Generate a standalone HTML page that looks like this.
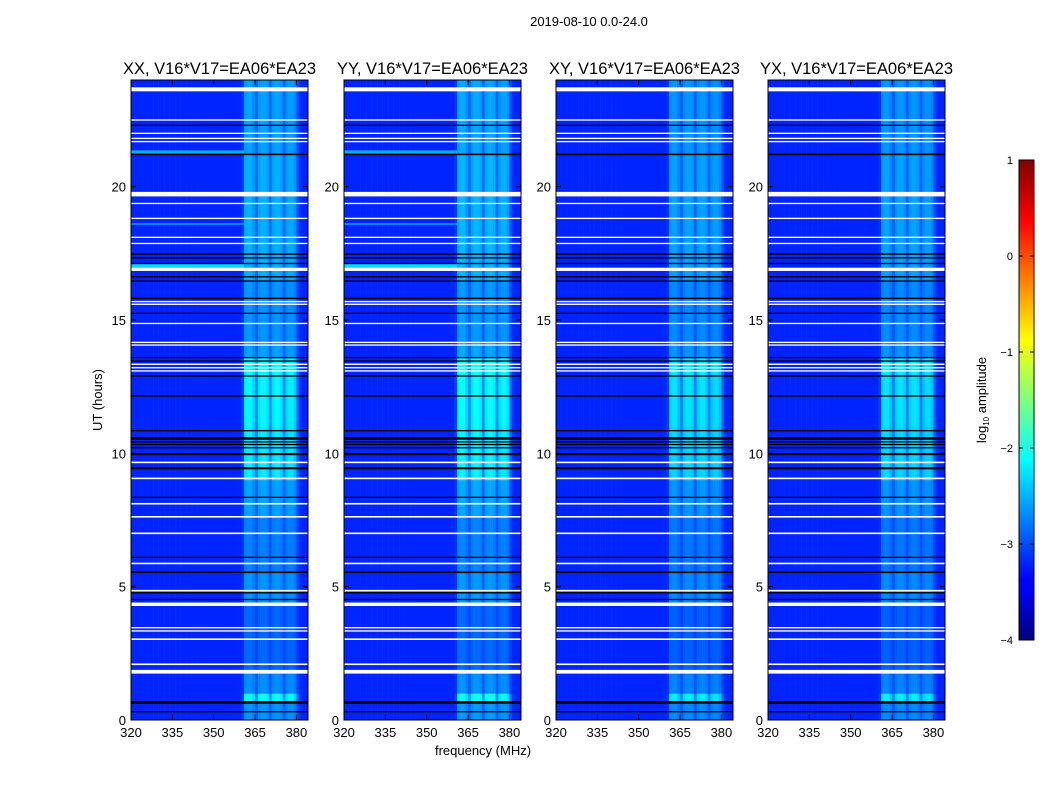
<!DOCTYPE html>
<html><head><meta charset="utf-8"><style>
body{margin:0;background:#fff;}
svg text{font-family:"Liberation Sans",sans-serif;fill:#000;}
</style></head><body>
<svg id="fig" width="1050" height="800" xmlns="http://www.w3.org/2000/svg">
<defs>
<linearGradient id="jet" x1="0" y1="1" x2="0" y2="0">
<stop offset="0" stop-color="#00007f"/><stop offset="0.11" stop-color="#0000ff"/>
<stop offset="0.125" stop-color="#0000ff"/><stop offset="0.375" stop-color="#00ffff"/>
<stop offset="0.625" stop-color="#ffff00"/><stop offset="0.875" stop-color="#ff0000"/>
<stop offset="1" stop-color="#7f0000"/>
</linearGradient>
</defs>
<text x="589" y="26" font-size="13" text-anchor="middle">2019-08-10 0.0-24.0</text>
<text x="483" y="755" font-size="13" text-anchor="middle">frequency (MHz)</text>
<text transform="translate(102,400) rotate(-90)" font-size="13" text-anchor="middle">UT (hours)</text>
<g id="panels"></g>
<g>
<rect x="1019" y="160" width="15" height="480" fill="url(#jet)" stroke="#000" stroke-width="1"/>
<text transform="translate(986,400) rotate(-90)" font-size="13" text-anchor="middle">log<tspan font-size="8" dy="3">10</tspan><tspan dy="-3"> amplitude</tspan></text>
<g id="cbticks"></g>
</g>
</svg>
<script>
const freqTicks=[320,335,350,365,380];
const timeTicks=[0,5,10,15,20];
const cbTicks=[1,0,-1,-2,-3,-4];
const panelTitles=["XX, V16*V17=EA06*EA23","YY, V16*V17=EA06*EA23","XY, V16*V17=EA06*EA23","YX, V16*V17=EA06*EA23"];
const panelGain=[1.0,1.05,0.9,0.9];
const baseLevel=-3.2;
// channel boost per 1 MHz bin starting at 320 MHz (64 bins)
const chanBoost=[0,0,0,0,0,0,0,0,0,0, 0,0,0,0,0,0,0,0,0,0, 0,0,0,0,0,0,0,0,0,0, 0,0,0,0,0,0,0,0,0,0, 0.15,0.95,1.0,1.0,0.8,0.5,0.9,1.0,1.0,0.9, 0.5,0.9,1.0,1.0,0.9,0.5,0.85,0.95,0.95,0.8, 0.3,0.05,0,0];
// time segments: start hour, end hour, band gain
const segStart=[0,0.7,1.0,1.8,4.3,5.5,7.6,9.0,11.0,12.9,13.6,14.2,16.5,21.2];
const segEnd=[0.7,1.0,1.8,4.3,5.5,7.6,9.0,11.0,12.9,13.6,14.2,16.5,21.2,24];
const segGain=[0.85,1.7,0.8,0.5,0.85,0.7,0.95,1.5,1.6,1.65,0.95,0.85,1.05,0.95];
// flagged rows: hour, thickness in hours
const whiteHours=[23.65,22.5,22.0,21.81,21.69,19.72,19.37,18.81,18.1,17.87,16.9,15.69,15.59,14.87,14.16,14.06,13.34,13.21,13.09,9.66,9.06,8.11,7.62,7.0,5.87,4.85,4.34,3.46,3.34,3.03,2.09,1.81];
const whiteThick=[0.15,0.05,0.05,0.05,0.05,0.17,0.05,0.05,0.05,0.05,0.12,0.05,0.05,0.05,0.05,0.05,0.05,0.05,0.05,0.06,0.06,0.06,0.06,0.06,0.06,0.06,0.13,0.05,0.05,0.06,0.06,0.14];
const blackHours=[22.3,21.21,17.47,17.33,17.12,16.62,16.46,15.81,15.25,13.59,13.46,12.9,12.15,10.85,10.56,10.43,10.33,10.21,9.97,9.44,8.35,6.1,5.54,4.77,4.52,0.66,0.31];
const blackThick=[0.05,0.06,0.05,0.05,0.05,0.05,0.05,0.05,0.05,0.05,0.05,0.05,0.05,0.05,0.1,0.05,0.05,0.05,0.08,0.08,0.05,0.05,0.06,0.05,0.05,0.1,0.05];
// RFI rows (XX, YY only)
const rfiHours=[21.3,18.6,17.02];
const rfiLevel=[-2.5,-2.6,-2.3];
const rfiThick=[0.12,0.06,0.15];

const NS="http://www.w3.org/2000/svg";
const panelLeft=[131,344,556,768], plotTop=80, W=177, H=640;
function jet(v){const t=Math.max(0,Math.min(1,(v+4)/5));
 const c=x=>Math.round(255*Math.max(0,Math.min(1,x)));
 return `rgb(${c(1.5-Math.abs(4*t-3))},${c(1.5-Math.abs(4*t-2))},${c(1.5-Math.abs(4*t-1))})`;}
function el(tag,attrs,parent){const e=document.createElementNS(NS,tag);for(const k in attrs)e.setAttribute(k,attrs[k]);parent.appendChild(e);return e;}
const root=document.getElementById('panels');
panelLeft.forEach((L,p)=>{
 const xs=f=>L+(f-320)*W/64.2;
 const ys=h=>plotTop+H-h*H/24;
 const g=el('g',{},root);
 
 
 const cells=el('g',{},g);
 
 
 for(let s=0;s<segStart.length;s++){
  for(let c=0;c<chanBoost.length;c++){
   const v=baseLevel+chanBoost[c]*segGain[s]*panelGain[p]*0.66;
   const x0=xs(320+c), x1=Math.min(xs(321+c),L+W);
   if(x1<=x0)continue;
   const r=el('rect',{x:x0,y:ys(segEnd[s]),width:x1-x0+0.3,height:ys(segStart[s])-ys(segEnd[s])+0.3,fill:jet(v)},cells);
   
   
  }
 }
 if(p<2){rfiHours.forEach((h,i)=>{
  const r=el('rect',{x:L,y:ys(h)-rfiThick[i]*H/48,width:xs(361)-L,height:rfiThick[i]*H/24,fill:jet(rfiLevel[i])},g);
  
  
 });}
 whiteHours.forEach((h,i)=>{
  const r=el('rect',{x:L,y:ys(h)-whiteThick[i]*H/48,width:W,height:Math.max(1.2,whiteThick[i]*H/24),fill:'#fff'},g);
  
  
 });
 blackHours.forEach((h,i)=>{
  const r=el('rect',{x:L,y:ys(h)-blackThick[i]*H/48,width:W,height:Math.max(1,blackThick[i]*H/24),fill:'#000'},g);
  
  
 });
 const fr=el('rect',{x:L,y:plotTop,width:W,height:H,fill:'none',stroke:'#000','stroke-width':1},g);
 
 
 const t=el('text',{x:L+W/2,y:plotTop-6,'font-size':16.5,'text-anchor':'middle'},g);
 t.textContent=panelTitles[p];
 
 
 freqTicks.forEach(f=>{
  const x=xs(f);
  el('line',{x1:x,x2:x,y1:plotTop+H,y2:plotTop+H-5,stroke:'#000'},g);
  el('line',{x1:x,x2:x,y1:plotTop,y2:plotTop+5,stroke:'#000'},g);
  const tl=el('text',{x:x,y:plotTop+H+17,'font-size':13,'text-anchor':'middle'},g);
  tl.textContent=f;
  
  
 });
 timeTicks.forEach(h=>{
  const y=ys(h);
  el('line',{x1:L,x2:L+5,y1:y,y2:y,stroke:'#000'},g);
  el('line',{x1:L+W,x2:L+W-5,y1:y,y2:y,stroke:'#000'},g);
  const tl=el('text',{x:L-5,y:y+5,'font-size':13,'text-anchor':'end'},g);
  tl.textContent=h;
  
  
 });
});
const cb=document.getElementById('cbticks');
cbTicks.forEach(v=>{
 const y=640-(v+4)*96;
 el('line',{x1:1019,x2:1023,y1:y,y2:y,stroke:'#000'},cb);
 el('line',{x1:1034,x2:1030,y1:y,y2:y,stroke:'#000'},cb);
 const tl=el('text',{x:1013,y:y+4,'font-size':11,'text-anchor':'end'},cb);
 tl.textContent=v<0?'\u2212'+(-v):v;
 
 
});
</script>
</body></html>
